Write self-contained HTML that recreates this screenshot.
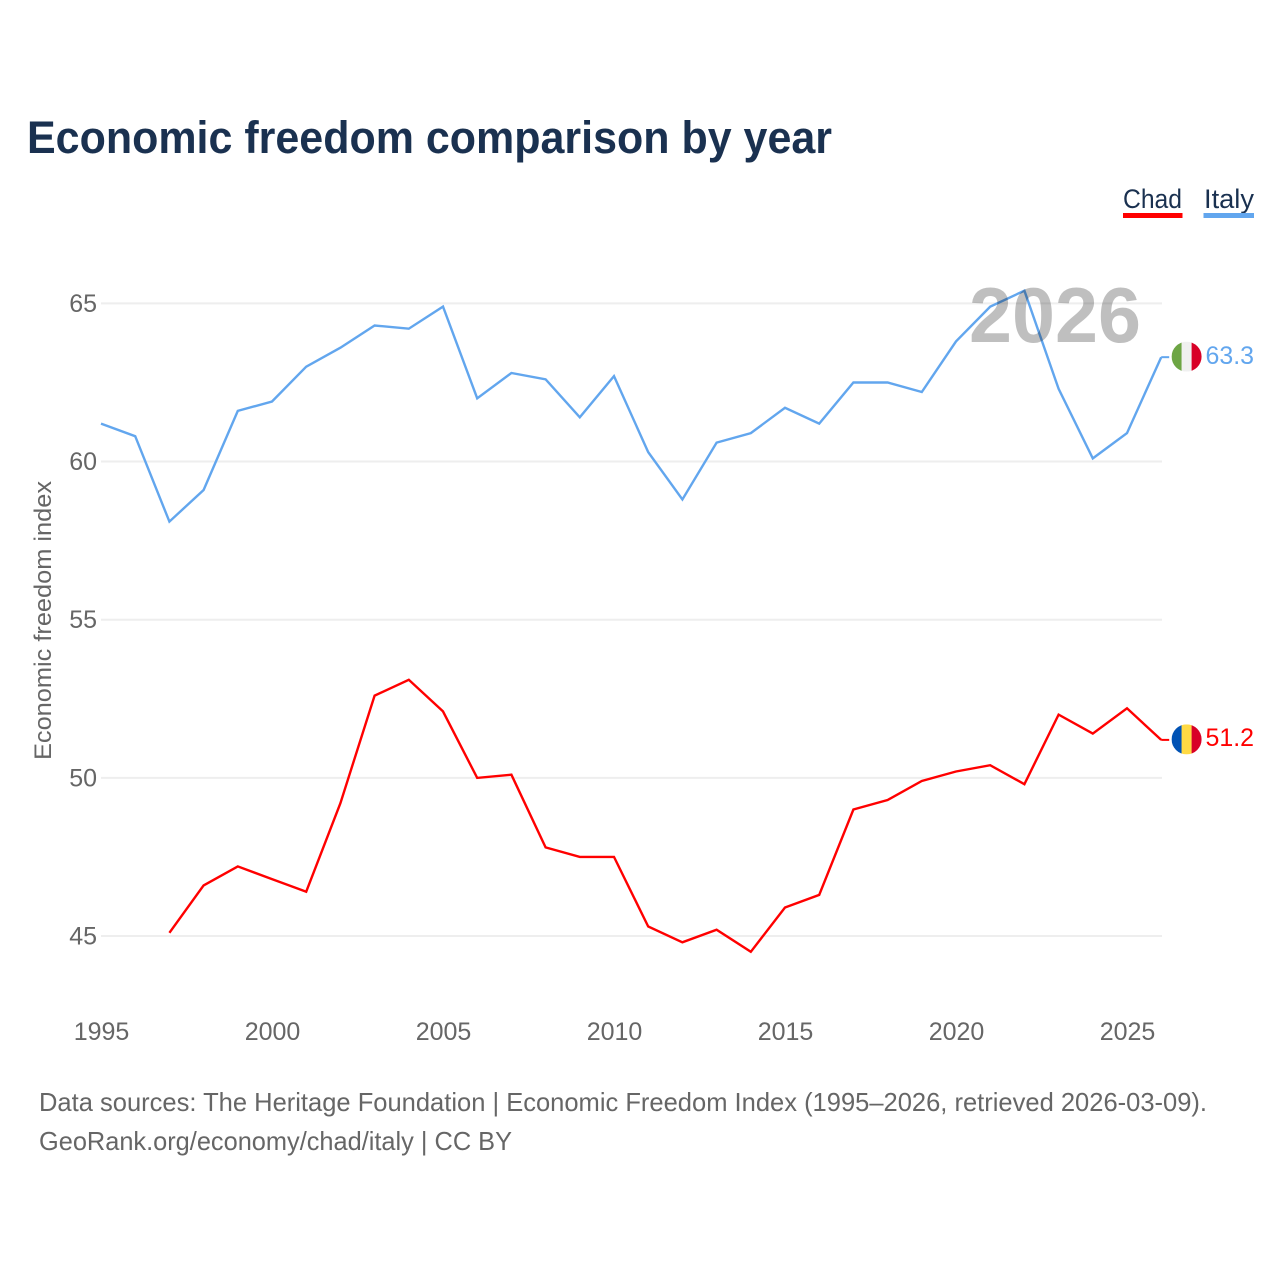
<!DOCTYPE html>
<html lang="en">
<head>
<meta charset="utf-8">
<title>Economic freedom comparison by year</title>
<style>
html,body{margin:0;padding:0;background:#fff;}
svg{display:block;font-family:"Liberation Sans",sans-serif;}
</style>
</head>
<body>
<svg id="chart" xmlns="http://www.w3.org/2000/svg" width="1280" height="1280" viewBox="0 0 1280 1280">
  <rect x="0" y="0" width="1280" height="1280" fill="#ffffff"/>
  <text x="27" y="153" font-size="45" font-weight="700" fill="#1a3150" textLength="805" lengthAdjust="spacingAndGlyphs">Economic freedom comparison by year</text>
  <g id="grid"></g>
  <g id="yticks"></g>
  <g id="xticks"></g>
  <text transform="translate(51,620.5) rotate(-90)" text-anchor="middle" font-size="24" fill="#666666" textLength="279" lengthAdjust="spacingAndGlyphs">Economic freedom index</text>
  <g id="series"></g>
  <text id="year" x="1055" y="342" text-anchor="middle" font-size="78" font-weight="700" fill="#000000" fill-opacity="0.25" textLength="172" lengthAdjust="spacingAndGlyphs">2026</text>
  <g>
    <text x="1123" y="208" font-size="27" fill="#1a3150" textLength="59" lengthAdjust="spacingAndGlyphs">Chad</text>
    <rect x="1123" y="213" width="59.5" height="5" fill="#ff0000"/>
  </g>
  <g>
    <text x="1204" y="208" font-size="27" fill="#1a3150" textLength="50" lengthAdjust="spacingAndGlyphs">Italy</text>
    <rect x="1203.5" y="213" width="50.5" height="5" fill="#62a6ee"/>
  </g>
  <g id="ends"></g>
  <text x="39" y="1111" font-size="26" fill="#666666" textLength="1168" lengthAdjust="spacingAndGlyphs">Data sources: The Heritage Foundation | Economic Freedom Index (1995–2026, retrieved 2026-03-09).</text>
  <text x="39" y="1150" font-size="26" fill="#666666" textLength="473" lengthAdjust="spacingAndGlyphs">GeoRank.org/economy/chad/italy | CC BY</text>
</svg>
<script>
const years = [1995,1996,1997,1998,1999,2000,2001,2002,2003,2004,2005,2006,2007,2008,2009,2010,2011,2012,2013,2014,2015,2016,2017,2018,2019,2020,2021,2022,2023,2024,2025,2026];
const italyValues = [61.2,60.8,58.1,59.1,61.6,61.9,63.0,63.6,64.3,64.2,64.9,62.0,62.8,62.6,61.4,62.7,60.3,58.8,60.6,60.9,61.7,61.2,62.5,62.5,62.2,63.8,64.9,65.4,62.3,60.1,60.9,63.3];
const chadValues = [null,null,45.1,46.6,47.2,46.8,46.4,49.2,52.6,53.1,52.1,50.0,50.1,47.8,47.5,47.5,45.3,44.8,45.2,44.5,45.9,46.3,49.0,49.3,49.9,50.2,50.4,49.8,52.0,51.4,52.2,51.2];
const yTickValues = [45,50,55,60,65];
const xTickValues = [1995,2000,2005,2010,2015,2020,2025];
const italyStripes = ["#6da544","#f0f0f0","#d80027"];
const chadStripes = ["#0052b4","#ffda44","#d80027"];

const NS = "http://www.w3.org/2000/svg";
function xScale(year){ return 101 + (year - 1995) * 34.2; }
function yScale(value){ return 936 - (value - 45) * 31.63; }
function make(tag, attrs, parent){
  const el = document.createElementNS(NS, tag);
  for (const k in attrs) el.setAttribute(k, attrs[k]);
  parent.appendChild(el);
  return el;
}
const grid = document.getElementById("grid");
const yticks = document.getElementById("yticks");
const xticks = document.getElementById("xticks");
const seriesG = document.getElementById("series");
const ends = document.getElementById("ends");

yTickValues.forEach(function(v){
  const line = make("line", {x1:101, x2:1162, y1:yScale(v), y2:yScale(v), stroke:"#eeeeee", "stroke-width":2}, grid);
  
  
  const t = make("text", {x:97, y:yScale(v)+8.5, "text-anchor":"end", "font-size":25, fill:"#666666"}, yticks);
  
  
  t.textContent = String(v);
});
xTickValues.forEach(function(v){
  const t = make("text", {x:xScale(v)+0.5, y:1040, "text-anchor":"middle", "font-size":25, fill:"#666666"}, xticks);
  
  
  t.textContent = String(v);
});

function linePoints(values){
  const pts = [];
  values.forEach(function(v,i){
    if (v !== null) pts.push(xScale(years[i]).toFixed(1) + "," + yScale(v).toFixed(1));
  });
  return pts.join(" ");
}
const chadLine = make("polyline", {points:linePoints(chadValues), fill:"none", stroke:"#ff0000", "stroke-width":2.4, "stroke-linejoin":"miter"}, seriesG);


const italyLine = make("polyline", {points:linePoints(italyValues), fill:"none", stroke:"#62a6ee", "stroke-width":2.4, "stroke-linejoin":"miter"}, seriesG);



const defs = make("defs", {}, ends);
make("clipPath", {id:"flag-clip"}, defs).appendChild(document.createElementNS(NS, "circle")).setAttribute("r", "15");

function endMarker(values, color, stripes, labelOffset, flagName, labelName, connectorName){
  const last = values[values.length - 1];
  const y = yScale(last);
  const x = xScale(years[years.length - 1]);
  const conn = make("line", {x1:x, x2:x+8, y1:y, y2:y, stroke:color, "stroke-width":2}, ends);
  
  
  const g = make("g", {transform:"translate(1186.6," + (y - 0.5) + ")"}, ends);
  
  
  const inner = make("g", {"clip-path":"url(#flag-clip)"}, g);
  stripes.forEach(function(c,i){
    make("rect", {x:-15 + i * 10, y:-15, width:10.2, height:30, fill:c}, inner);
  });
  const t = make("text", {x:1205.5, y:y + labelOffset, "font-size":25, fill:color, textLength:48.5, lengthAdjust:"spacingAndGlyphs"}, ends);
  
  
  t.textContent = last.toFixed(1);
}
endMarker(italyValues, "#62a6ee", italyStripes, 7, "flag-italy", "value-label-italy", "connector-italy");
endMarker(chadValues, "#ff0000", chadStripes, 6, "flag-chad", "value-label-chad", "connector-chad");
</script>
</body>
</html>
